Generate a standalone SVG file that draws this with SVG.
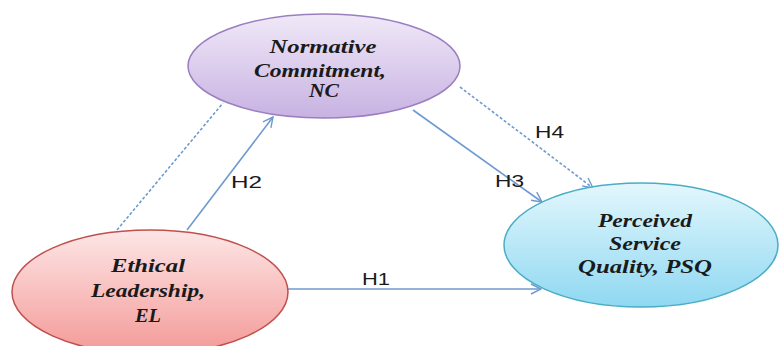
<svg xmlns="http://www.w3.org/2000/svg" width="780" height="346" viewBox="0 0 780 346">
  <defs>
    <linearGradient id="gNC" x1="0" y1="0" x2="0" y2="1">
      <stop offset="0" stop-color="#f0e9f8"/>
      <stop offset="1" stop-color="#c8b2e2"/>
    </linearGradient>
    <linearGradient id="gEL" x1="0" y1="0" x2="0" y2="1">
      <stop offset="0" stop-color="#fde6e6"/>
      <stop offset="1" stop-color="#f39a98"/>
    </linearGradient>
    <linearGradient id="gPSQ" x1="0" y1="0" x2="0" y2="1">
      <stop offset="0" stop-color="#e3f7fd"/>
      <stop offset="1" stop-color="#8fd8f1"/>
    </linearGradient>
    <marker id="arr" viewBox="0 0 12 12" refX="11" refY="6" markerWidth="12" markerHeight="12" markerUnits="userSpaceOnUse" orient="auto">
      <path d="M1,1 L11,6 L1,11" fill="none" stroke="#6f9ad0" stroke-width="1.4"/>
    </marker>
  </defs>
  <style>
    .node-text { font-family: "Liberation Serif", "DejaVu Serif", serif; font-style: italic; font-weight: bold; font-size: 18px; fill: #1a1a1a; text-anchor: middle; }
    .lbl { font-family: "Liberation Sans", Arial, sans-serif; font-size: 17px; fill: #1a1a1a; }
    .conn { fill: none; stroke: #6f9ad0; stroke-width: 1.6; }
    .dash { stroke-dasharray: 3 2; }
  </style>
  <rect width="780" height="346" fill="#ffffff"/>

  <g id="connectors">
    <line class="conn dash" x1="117" y1="230" x2="223" y2="103"/>
    <line class="conn" x1="187" y1="230" x2="273" y2="117" marker-end="url(#arr)"/>
    <line class="conn" x1="413" y1="110" x2="542" y2="202" marker-end="url(#arr)"/>
    <line class="conn dash" x1="460" y1="87" x2="593" y2="188" marker-end="url(#arr)"/>
    <line class="conn" x1="287" y1="289" x2="541" y2="289" marker-end="url(#arr)"/>
    <text class="lbl" x="231" y="188" textLength="31" lengthAdjust="spacingAndGlyphs">H2</text>
    <text class="lbl" x="495" y="187" textLength="29" lengthAdjust="spacingAndGlyphs">H3</text>
    <text class="lbl" x="535" y="138" textLength="29" lengthAdjust="spacingAndGlyphs">H4</text>
    <text class="lbl" x="362" y="285" textLength="28" lengthAdjust="spacingAndGlyphs">H1</text>
  </g>

  <g id="node-nc">
    <ellipse cx="324" cy="66" rx="136" ry="52" fill="url(#gNC)" stroke="#9a7fc0" stroke-width="1.5"/>
    <text class="node-text" x="323" y="53" textLength="107" lengthAdjust="spacingAndGlyphs">Normative</text>
    <text class="node-text" x="320" y="77" textLength="132" lengthAdjust="spacingAndGlyphs">Commitment,</text>
    <text class="node-text" x="324" y="97" textLength="30" lengthAdjust="spacingAndGlyphs">NC</text>
  </g>

  <g id="node-el">
    <ellipse cx="150" cy="292" rx="138" ry="62" fill="url(#gEL)" stroke="#c0504d" stroke-width="1.5"/>
    <text class="node-text" x="148" y="272" textLength="74" lengthAdjust="spacingAndGlyphs">Ethical</text>
    <text class="node-text" x="148" y="297" textLength="114" lengthAdjust="spacingAndGlyphs">Leadership,</text>
    <text class="node-text" x="148" y="322" textLength="26" lengthAdjust="spacingAndGlyphs">EL</text>
  </g>

  <g id="node-psq">
    <ellipse cx="641" cy="245" rx="137" ry="62" fill="url(#gPSQ)" stroke="#4bacc6" stroke-width="1.5"/>
    <text class="node-text" x="645" y="227" textLength="94" lengthAdjust="spacingAndGlyphs">Perceived</text>
    <text class="node-text" x="645" y="250" textLength="72" lengthAdjust="spacingAndGlyphs">Service</text>
    <text class="node-text" x="645" y="273" textLength="134" lengthAdjust="spacingAndGlyphs">Quality, PSQ</text>
  </g>
</svg>
